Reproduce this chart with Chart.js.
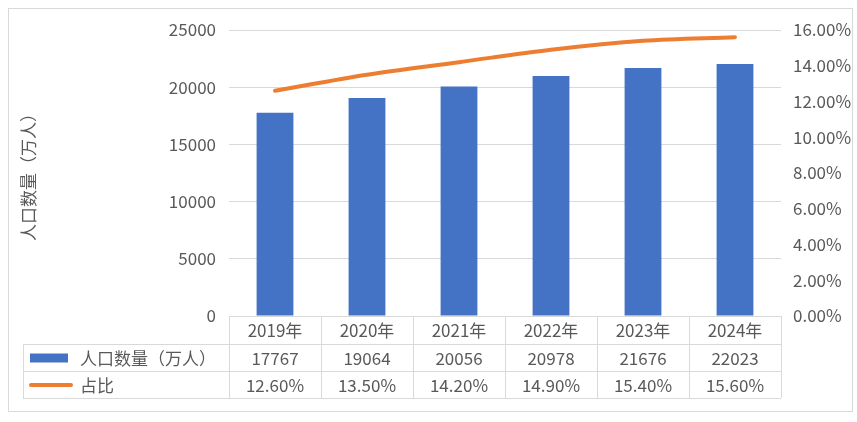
<!DOCTYPE html>
<html>
<head>
<meta charset="utf-8">
<script src="https://cdn.jsdelivr.net/npm/chart.js@4.4.1/dist/chart.umd.min.js"></script>
<style>
  html, body { margin: 0; padding: 0; background: #fff; }
  #wrap { width: 857px; height: 422px; position: relative; }
</style>
</head>
<body>
<div id="wrap"><canvas id="chart"></canvas></div>
<script>
// 数据
const years = ['2019年', '2020年', '2021年', '2022年', '2023年', '2024年'];
const population = [17767, 19064, 20056, 20978, 21676, 22023];
const share = [12.6, 13.5, 14.2, 14.9, 15.4, 15.6];

const popLabel = '人口数量（万人）';
const shareLabel = '占比';

const FONT = '"Noto Sans CJK SC", "Noto Sans", sans-serif';
const FS = 17;
const TEXT = '#595959';
const LINE = '#d9d9d9';
const BLUE = '#4472C4';
const ORANGE = '#ED7D31';

// 表格 + 外框
const dataTable = {
    id: 'dataTable',
    afterDraw(chart) {
        const ctx = chart.ctx;
        const x = chart.scales.x;
        const area = chart.chartArea;
        const colW = (x.right - x.left) / years.length;
        const rowH = 28;
        const y0 = area.bottom, y1 = y0 + rowH, y2 = y1 + rowH - 1, y3 = y2 + rowH - 1;
        const tableLeft = 23;

        ctx.save();
        ctx.strokeStyle = LINE;
        ctx.lineWidth = 1;
        ctx.beginPath();
        ctx.moveTo(x.left, y0 + 0.5); ctx.lineTo(x.right, y0 + 0.5);
        [y1, y2, y3].forEach(y => { ctx.moveTo(tableLeft, y + 0.5); ctx.lineTo(x.right, y + 0.5); });
        ctx.moveTo(tableLeft + 0.5, y1); ctx.lineTo(tableLeft + 0.5, y3);
        for (let i = 0; i <= years.length; i++) {
            const cx = Math.round(x.left + i * colW) + 0.5;
            ctx.moveTo(cx, y0); ctx.lineTo(cx, y3);
        }
        ctx.stroke();

        // 外框
        ctx.strokeStyle = '#d9d9d9';
        ctx.strokeRect(8.5, 8.5, 844, 403);

        ctx.fillStyle = TEXT;
        ctx.font = FS + 'px ' + FONT;
        ctx.textBaseline = 'middle';
        ctx.textAlign = 'center';
        years.forEach((yr, i) => {
            const cx = x.getPixelForValue(i);
            ctx.fillText(String(population[i]), cx, (y1 + y2) / 2 + 1);
            ctx.fillText(share[i].toFixed(2) + '%', cx, (y2 + y3) / 2 + 1);
        });

        // 图例
        ctx.fillStyle = BLUE;
        ctx.fillRect(30, (y1 + y2) / 2 - 4, 38, 9);
        ctx.strokeStyle = ORANGE;
        ctx.lineWidth = 4;
        ctx.lineCap = 'round';
        ctx.beginPath();
        ctx.moveTo(31, (y2 + y3) / 2 + 0.5); ctx.lineTo(71, (y2 + y3) / 2 + 0.5);
        ctx.stroke();

        ctx.fillStyle = TEXT;
        ctx.textAlign = 'left';
        ctx.fillText(popLabel, 80, (y1 + y2) / 2 + 1);
        ctx.fillText(shareLabel, 80, (y2 + y3) / 2 + 1);
        ctx.restore();
    }
};

new Chart(document.getElementById('chart'), {
    data: {
        labels: years,
        datasets: [
            {
                type: 'line',
                label: shareLabel,
                data: share,
                yAxisID: 'y1',
                borderColor: ORANGE,
                borderWidth: 4,
                borderCapStyle: 'round',
                pointRadius: 0,
                cubicInterpolationMode: 'monotone',
                order: 0
            },
            {
                type: 'bar',
                label: popLabel,
                data: population,
                yAxisID: 'y',
                backgroundColor: BLUE,
                categoryPercentage: 1,
                barPercentage: 0.4,
                order: 1
            }
        ]
    },
    options: {
        responsive: true,
        maintainAspectRatio: false,
        animation: false,
        layout: { padding: { top: 30, left: 0, right: 0, bottom: 0 } },
        plugins: { legend: { display: false }, tooltip: { enabled: false } },
        scales: {
            x: {
                grid: { display: false, drawTicks: false },
                border: { display: false },
                ticks: { color: TEXT, font: { family: FONT, size: FS }, padding: 4, maxRotation: 0 },
                afterFit(s) { s.height = 106; }
            },
            y: {
                position: 'left',
                min: 0, max: 25000,
                ticks: { stepSize: 5000, color: TEXT, font: { family: FONT, size: FS }, padding: 13,
                    callback: v => String(v) },
                grid: { color: LINE, drawTicks: false },
                border: { display: false },
                title: { display: true, text: popLabel, color: TEXT, font: { family: FONT, size: FS }, padding: { top: 18, bottom: 0 } },
                afterFit(s) { s.width = 229; }
            },
            y1: {
                position: 'right',
                min: 0, max: 16,
                ticks: { stepSize: 2, color: TEXT, font: { family: FONT, size: FS }, padding: 12,
                    callback: v => v.toFixed(2) + '%' },
                grid: { display: false, drawTicks: false },
                border: { display: false },
                afterFit(s) { s.width = 76; }
            }
        }
    },
    plugins: [dataTable]
});
</script>
</body>
</html>
